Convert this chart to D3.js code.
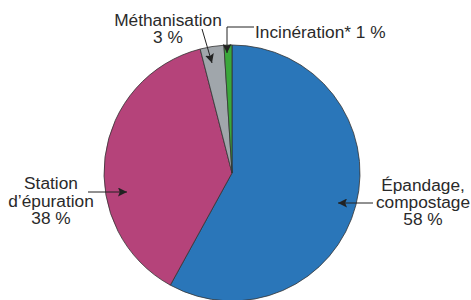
<!DOCTYPE html>
<html><head><meta charset="utf-8">
<script src="https://cdn.jsdelivr.net/npm/d3@7"></script>
<style>
body{margin:0;background:#fff;}
text{font-family:"Liberation Sans",Arial,sans-serif;font-size:17.3px;fill:#2a2a2a;}
</style></head>
<body><svg id="c" width="471" height="300"></svg>
<script>
const categories = ["Épandage, compostage","Station d'épuration","Méthanisation","Incinération*"];
const values = [58, 38, 3, 1];
const colors = ["#2a76b9","#b5437a","#a0a6ab","#3aa83a"];

const svg = d3.select("#c");
const cx = 232, cy = 173, r = 128;
const pie = d3.pie().sort(null).value(d=>d)(values);
const arc = d3.arc().innerRadius(0).outerRadius(r);
const g = svg.append("g").attr("transform",`translate(${cx},${cy})`);
g.selectAll("path").data(pie).join("path")
  .attr("d",arc).attr("fill",(d,i)=>colors[i])
  .attr("stroke","#333").attr("stroke-width",0.8);

const defs = svg.append("defs");
defs.append("marker").attr("id","ah").attr("viewBox","0 0 10 10")
  .attr("refX",10).attr("refY",5).attr("markerWidth",9).attr("markerHeight",9)
  .attr("markerUnits","userSpaceOnUse").attr("orient","auto")
  .append("path").attr("d","M0,0 L10,5 L0,10 L2,5 Z").attr("fill","#222");

function line(pts){
  svg.append("path").attr("d",d3.line()(pts)).attr("fill","none")
    .attr("stroke","#222").attr("stroke-width",1).attr("marker-end","url(#ah)");
}
function label(x,y,lines,lh){
  const t = svg.append("text").attr("text-anchor","middle");
  lines.forEach((s,i)=>t.append("tspan").attr("x",x).attr("y",y+i*lh).text(s));
}
// Méthanisation
label(168,26,["Méthanisation", values[2]+" %"],17);
line([[202,29],[212,63]]);
// Incinération
svg.append("text").attr("x",255).attr("y",38).text("Incinération* "+values[3]+" %");
line([[254,27],[227,27],[227,53]]);
// Station
label(51,189,["Station","d\u2019épuration", values[1]+" %"],17.5);
line([[88,192],[127,192]]);
// Épandage
label(423,190.5,["Épandage,","compostage", values[0]+" %"],17.3);
line([[373,203],[338,203]]);
</script></body></html>
